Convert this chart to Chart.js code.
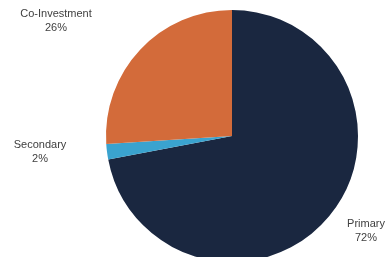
<!DOCTYPE html>
<html>
<head>
<meta charset="utf-8">
<script src="https://cdn.jsdelivr.net/npm/chart.js@4/dist/chart.umd.min.js"></script>
<style>
  html, body { margin: 0; padding: 0; background: #fff; overflow: hidden; }
  #wrap { position: absolute; left: 0; top: 0; width: 385px; height: 272px; }
</style>
</head>
<body>
<div id="wrap"><canvas id="pieChart"></canvas></div>
<script>
var labels = ['Primary', 'Secondary', 'Co-Investment'];
var values = [72, 2, 26];
var colors = ['#1a2740', '#3aa3cf', '#d36b3a'];
// label text positions (centre of text block)
var labelPos = [[366, 224], [40, 145], [56, 14]];

var outsideLabels = {
    id: 'outsideLabels',
    afterDraw: function (chart) {
        var ctx = chart.ctx;
        ctx.save();
        ctx.font = '11px "Liberation Sans", Arial, sans-serif';
        ctx.fillStyle = '#404040';
        ctx.textAlign = 'center';
        ctx.textBaseline = 'middle';
        labels.forEach(function (l, i) {
            var p = labelPos[i];
            ctx.fillText(l, p[0], p[1]);
            ctx.fillText(values[i] + '%', p[0], p[1] + 14);
        });
        ctx.restore();
    }
};

window.onload = function () {
    var config = {
        type: 'pie',
        data: {
            labels: labels,
            datasets: [{
                data: values,
                backgroundColor: colors,
                borderWidth: 0
            }]
        },
        options: {
            responsive: true,
            maintainAspectRatio: false,
            animation: false,
            layout: { padding: { left: 106, right: 27, top: 10, bottom: 10 } },
            plugins: {
                legend: { display: false },
                tooltip: { enabled: false }
            }
        },
        plugins: [outsideLabels]
    };
    var ctx = document.getElementById('pieChart').getContext('2d');
    window.myPie = new Chart(ctx, config);
};
</script>
</body>
</html>
